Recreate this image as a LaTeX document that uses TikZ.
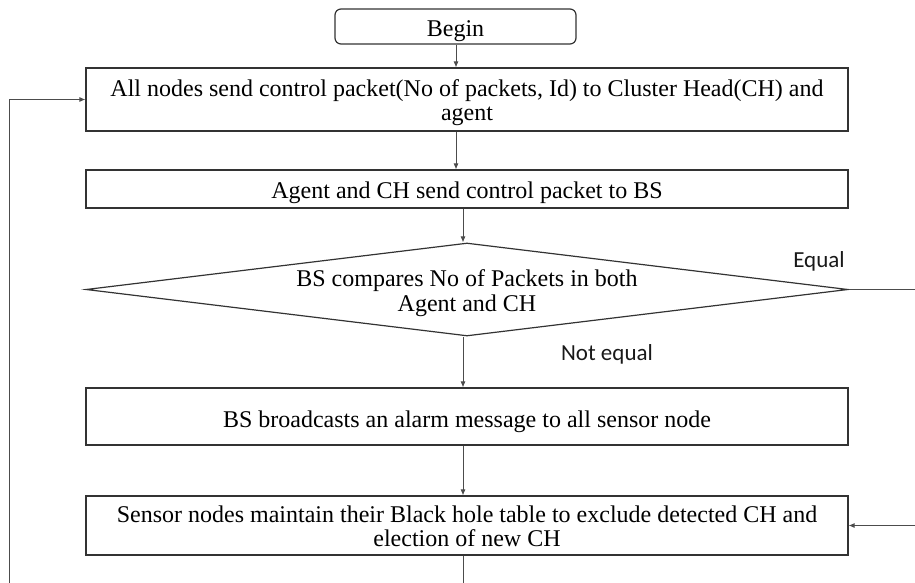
\documentclass[tikz,border=0pt]{standalone}
\usepackage{fontspec}
\setmainfont{Liberation Serif}
\newfontfamily\labelfont{Carlito}
\usetikzlibrary{arrows.meta,shapes.geometric}
\begin{document}
\begin{tikzpicture}[x=1pt,y=-1pt,
  boxtext/.style={font=\fontsize{24}{24.5}\selectfont, align=center, inner sep=0pt},
  stepbox/.style={draw=black!80, line width=1.2pt, minimum width=762pt, inner sep=0pt},
  startbox/.style={draw=black!80, line width=1.2pt, rounded corners=6pt, minimum width=241pt, minimum height=35pt, inner sep=0pt},
  decbox/.style={draw=black!80, line width=1.2pt, diamond, minimum width=762pt, minimum height=93pt, inner sep=0pt},
  conn/.style={draw=black!70, line width=0.8pt},
  arr/.style={conn, -{Latex[length=6pt,width=5pt]}},
  edgelabel/.style={font=\labelfont\fontsize{23}{23}\selectfont, text=black!90}
]
\useasboundingbox (0,0) rectangle (915,583);

\node[startbox] (begin) at (455.5,26.5) {};
\node[stepbox, minimum height=63pt] (b1) at (467,99.5) {};
\node[stepbox, minimum height=38pt] (b2) at (467,189) {};
\node[decbox] (dec) at (467,289.5) {};
\node[stepbox, minimum height=57pt] (b3) at (467,416.5) {};
\node[stepbox, minimum height=59pt] (b4) at (467,525.5) {};

\node[boxtext] (t0) at ([yshift=-5pt]begin.center) {Begin};
\node[boxtext] (t1) at ([yshift=-3pt]b1.center) {All nodes send control packet(No of packets, Id) to Cluster Head(CH) and\\agent};
\node[boxtext] (t2) at ([yshift=-4pt]b2.center) {Agent and CH send control packet to BS};
\node[boxtext] (t3) at ([yshift=-3.5pt]dec.center) {BS compares No of Packets in both\\Agent and CH};
\node[boxtext] (t4) at ([yshift=-5pt]b3.center) {BS broadcasts an alarm message to all sensor node};
\node[boxtext] (t5) at ([yshift=-1pt]b4.center) {Sensor nodes maintain their Black hole table to exclude detected CH and\\election of new CH};

\coordinate (c1) at (456,0);
\coordinate (c2) at (463,0);
\coordinate (loopbot) at (9,583);
\coordinate (loopcorner) at (9,99.5);
\coordinate (eqend) at (915,289.5);
\coordinate (inend) at (915,525.5);
\coordinate (downend) at (463,583);

\draw[arr] (begin.south -| c1) -- (b1.north -| c1);
\draw[arr] (b1.south -| c1) -- (b2.north -| c1);
\draw[arr] (b2.south -| c2) -- (dec.north -| c2);
\draw[arr] (dec.south -| c2) -- (b3.north -| c2);
\draw[arr] (b3.south -| c2) -- (b4.north -| c2);
\draw[conn] (b4.south -| c2) -- (downend);
\draw[conn] (dec.east) -- (eqend);
\draw[arr] (inend) -- (b4.east);
\draw[arr] (loopbot) -- (loopcorner) -- (b1.west);

\node[edgelabel] (eqlabel) at (819,261) {Equal};
\node[edgelabel] (nelabel) at (607,354) {Not equal};
\end{tikzpicture}
\end{document}
